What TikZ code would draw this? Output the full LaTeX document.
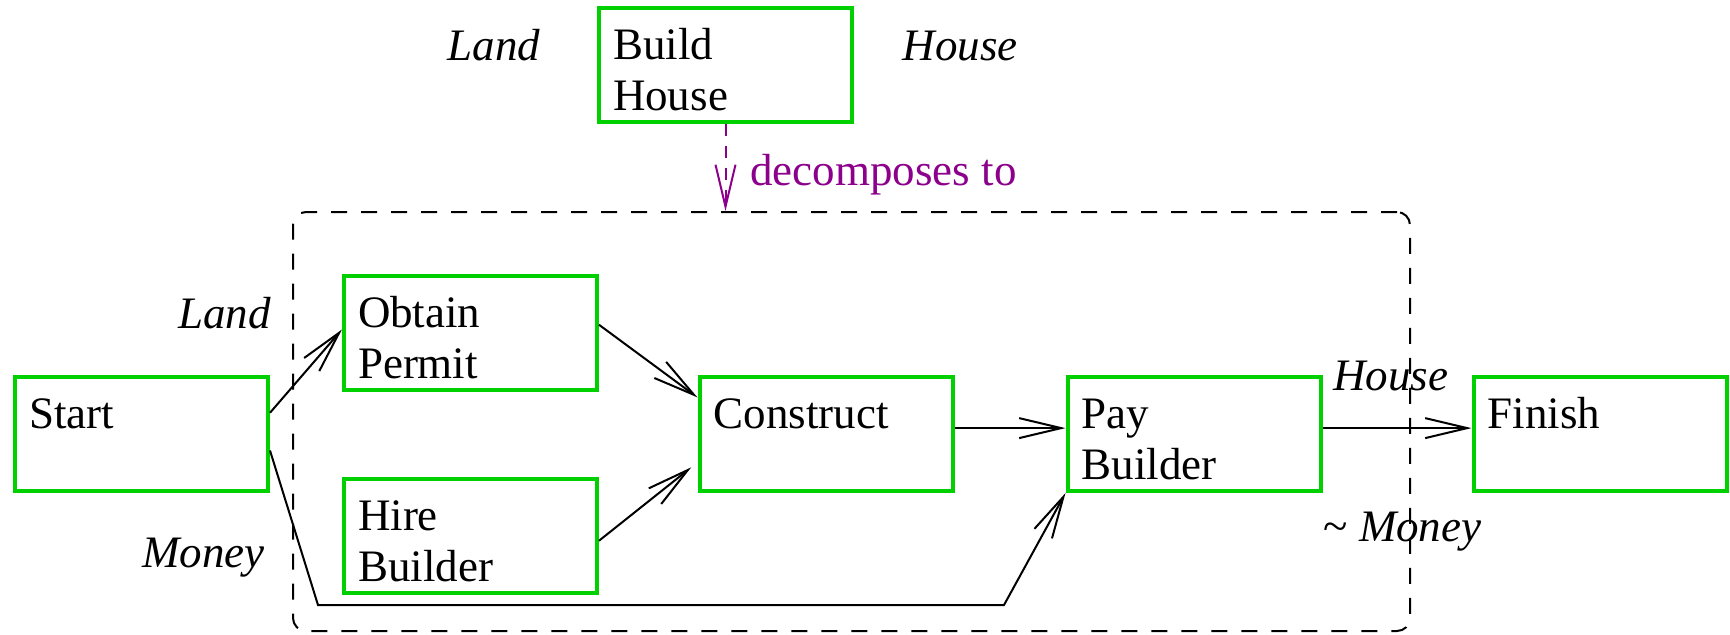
\documentclass[tikz,border=0pt]{standalone}
\usepackage{fontspec}
\setmainfont{Liberation Serif}
\usetikzlibrary{arrows.meta,calc}
\definecolor{boxgreen}{RGB}{0,208,0}
\definecolor{decpurple}{RGB}{140,0,140}
\tikzset{
  txt/.style={font=\fontsize{22.5}{25.5}\selectfont, inner sep=0pt},
  lbl/.style={txt, font=\fontsize{22.5}{25.5}\selectfont\itshape},
  task/.style={draw=boxgreen, line width=2pt, txt, align=left,
    text width=112.5pt, inner xsep=7pt, inner ysep=0pt,
    text height=25.5pt, text depth=31.5pt},
  flow/.style={line width=1pt, -{Straight Barb[length=21pt,width=10pt,line width=1pt]}},
  group/.style={draw, line width=1pt, dash pattern=on 8pt off 7pt, rounded corners=6.5pt,
    minimum width=558.5pt, minimum height=209.5pt, inner sep=0pt},
  decomp/.style={decpurple, line width=1pt, dash pattern=on 6pt off 5pt,
    -{Straight Barb[length=21pt,width=10pt,line width=1pt]}}
}
\begin{document}
\begin{tikzpicture}[x=0.5pt,y=-0.5pt]
\useasboundingbox[fill=white] (0,0) rectangle (1730,634);
% group
\node[group] (grp) at (851.5,421.5) {};
% tasks
\node[task] (build) at (725.5,65) {Build\\House};
\node[task] (start) at (141.5,434) {Start};
\node[task] (obtain) at (470.5,333) {Obtain\\Permit};
\node[task] (hire) at (470.5,536) {Hire\\Builder};
\node[task] (construct) at (826,434) {Construct};
\node[task] (pay) at (1194,434) {Pay\\Builder};
\node[task] (finish) at (1600,434) {Finish};
% labels
\node[lbl, anchor=base] (landtop) at (494,60) {Land};
\node[lbl, anchor=base] (housetop) at (960,60) {House};
\node[txt, anchor=base west, text=decpurple] (declbl) at (750,185) {decomposes to};
\node[lbl, anchor=base east] (landleft) at (271,328) {Land};
\node[lbl, anchor=base east] (moneyleft) at (265,567) {Money};
\node[lbl, anchor=base west] (houseright) at (1333,390) {House};
\node[txt, anchor=base west] (moneyright) at (1323,541) {\textasciitilde\ \textit{Money}};
% decomposition arrow
\draw[decomp] (build.south) -- (grp.north -| build.south);
% flows
\draw[flow] ($(start.north east)!0.32!(start.south east)$) -- ($(obtain.north west)!0.47!(obtain.south west)$);
\draw[flow] ($(obtain.north east)!0.43!(obtain.south east)$) -- ($(construct.north west)!0.19!(construct.south west)$);
\draw[flow, shorten >=4pt] ($(hire.north east)!0.54!(hire.south east)$) -- ($(construct.north west)!0.74!(construct.south west)$);
\draw[flow] ($(construct.north east)!0.45!(construct.south east)$) -- ($(pay.north west)!0.45!(pay.south west)$);
\draw[flow] ($(pay.north east)!0.45!(pay.south east)$) -- ($(finish.north west)!0.45!(finish.south west)$);
\coordinate (m1) at (318,605);
\coordinate (m2) at (1004,605);
\draw[flow] ($(start.north east)!0.64!(start.south east)$) -- (m1) -- (m2) -- (pay.south west);
\end{tikzpicture}
\end{document}
